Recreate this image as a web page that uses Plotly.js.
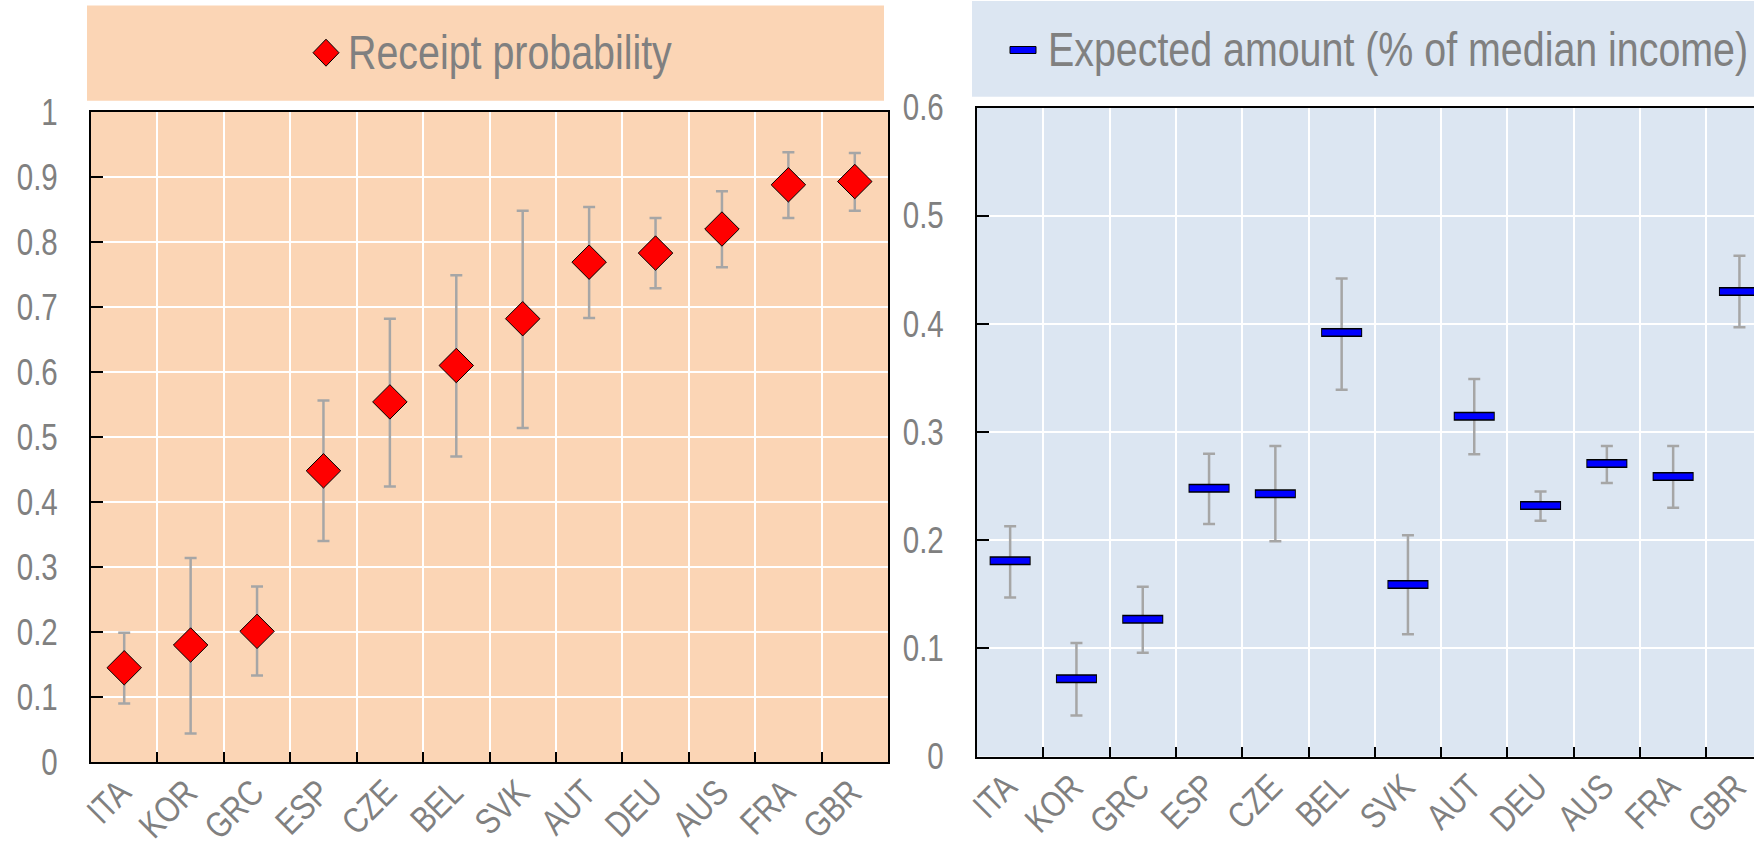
<!DOCTYPE html>
<html><head><meta charset="utf-8">
<script src="https://cdn.plot.ly/plotly-3.0.1.min.js"></script>
<style>html,body{margin:0;padding:0;overflow:hidden;background:#fff}#chart{width:1790px;height:846px}</style>
</head><body><div id="chart"></div>
<script>
// ---- data ----
const countries = ['ITA','KOR','GRC','ESP','CZE','BEL','SVK','AUT','DEU','AUS','FRA','GBR'];
const receiptProb = [0.145, 0.180, 0.201, 0.448, 0.554, 0.610, 0.682, 0.769, 0.783, 0.820, 0.888, 0.893];
const receiptHigh = [0.199, 0.314, 0.270, 0.556, 0.682, 0.749, 0.848, 0.854, 0.837, 0.878, 0.938, 0.937];
const receiptLow  = [0.090, 0.044, 0.133, 0.340, 0.424, 0.470, 0.514, 0.683, 0.729, 0.761, 0.837, 0.848];
const amount      = [0.181, 0.072, 0.127, 0.248, 0.243, 0.392, 0.159, 0.3145, 0.232, 0.271, 0.259, 0.430];
const amountHigh  = [0.213, 0.105, 0.157, 0.280, 0.287, 0.442, 0.2045, 0.349, 0.245, 0.287, 0.287, 0.463];
const amountLow   = [0.147, 0.038, 0.096, 0.215, 0.199, 0.339, 0.113, 0.2795, 0.218, 0.253, 0.230, 0.397];
const legendLabels = ['Receipt probability', 'Expected amount (% of median income)'];

// ---- styling ----
const W = 1790, H = 846;
const fx = p => p / W;
const fy = p => 1 - p / H;
const FONT = '"Liberation Sans Narrow", "Arial Narrow", "Liberation Sans", Arial, sans-serif';
const GREY = '#808080';
const PEACH = '#fbd5b5';
const BLUE_BG = '#dce6f2';
const ERR = '#a6a6a6';
const NARROW = 0.82; // horizontal condensing to mimic a narrow typeface

const up = (hi, v) => hi.map((h, i) => h - v[i]);
const dn = (lo, v) => lo.map((l, i) => v[i] - l);

const traces = [
  {
    type: 'scatter', mode: 'markers', x: countries, y: receiptProb,
    xaxis: 'x', yaxis: 'y', name: legendLabels[0], showlegend: false, hoverinfo: 'skip',
    marker: {symbol: 'diamond', size: 26.5, color: '#ff0000', line: {color: '#000', width: 1}},
    error_y: {type: 'data', symmetric: false, array: up(receiptHigh, receiptProb),
              arrayminus: dn(receiptLow, receiptProb), color: ERR, thickness: 2.5, width: 6}
  },
  {
    type: 'scatter', mode: 'markers', x: countries, y: amount,
    xaxis: 'x2', yaxis: 'y2', name: legendLabels[1] + ' outline', showlegend: false, hoverinfo: 'skip',
    marker: {symbol: 'line-ew', size: 29.3, color: '#000', line: {color: '#000', width: 9}},
    error_y: {type: 'data', symmetric: false, array: up(amountHigh, amount),
              arrayminus: dn(amountLow, amount), color: ERR, thickness: 2.5, width: 6}
  },
  {
    type: 'scatter', mode: 'markers', x: countries, y: amount,
    xaxis: 'x2', yaxis: 'y2', name: legendLabels[1], showlegend: false, hoverinfo: 'skip',
    marker: {symbol: 'line-ew', size: 27.9, color: '#0000ff', line: {color: '#0000ff', width: 6}}
  }
];

const xCommon = {
  type: 'category', range: [-0.5, 11.5], tickson: 'boundaries',
  ticks: 'inside', ticklen: 10, tickwidth: 2, tickcolor: '#000',
  showgrid: true, gridcolor: '#ffffff', gridwidth: 2,
  showline: true, linecolor: '#000', linewidth: 2, mirror: true,
  tickangle: -45, tickfont: {family: FONT, size: 36, color: GREY},
  ticklabelstandoff: -7, ticklabelshift: -4, automargin: false, fixedrange: true
};
const yCommon = {
  ticks: 'inside', ticklen: 12, tickwidth: 2, tickcolor: '#000',
  showgrid: true, gridcolor: '#ffffff', gridwidth: 2, zeroline: false,
  showline: true, linecolor: '#000', linewidth: 2, mirror: true,
  tickfont: {family: FONT, size: 36, color: GREY},
  ticklabelstandoff: 24, automargin: false, fixedrange: true
};

const layout = {
  width: W, height: H,
  margin: {l: 0, r: 0, t: 0, b: 0},
  paper_bgcolor: '#ffffff', plot_bgcolor: 'rgba(0,0,0,0)',
  showlegend: false, hovermode: false,
  font: {family: FONT, color: GREY},
  xaxis: Object.assign({}, xCommon, {domain: [fx(91), fx(888)], anchor: 'y'}),
  yaxis: Object.assign({}, yCommon, {domain: [fy(762), fy(112)], range: [0, 1], dtick: 0.1, anchor: 'x'}),
  xaxis2: Object.assign({}, xCommon, {domain: [fx(977), fx(1772.6)], anchor: 'y2'}),
  yaxis2: Object.assign({}, yCommon, {domain: [fy(756.5), fy(107.6)], range: [0, 0.6], dtick: 0.1, anchor: 'x2'}),
  shapes: [
    // plot backgrounds
    {type: 'rect', xref: 'x domain', yref: 'y domain', x0: 0, x1: 1, y0: 0, y1: 1,
     fillcolor: PEACH, line: {width: 0}, layer: 'below'},
    {type: 'rect', xref: 'x2 domain', yref: 'y2 domain', x0: 0, x1: 1, y0: 0, y1: 1,
     fillcolor: BLUE_BG, line: {width: 0}, layer: 'below'},
    // legend boxes
    {type: 'rect', xref: 'paper', yref: 'paper', x0: fx(87), x1: fx(884), y0: fy(100.7), y1: fy(5.6),
     fillcolor: PEACH, line: {width: 0}, layer: 'below'},
    {type: 'rect', xref: 'paper', yref: 'paper', x0: fx(972), x1: 1, y0: fy(96.7), y1: fy(1),
     fillcolor: BLUE_BG, line: {width: 0}, layer: 'below'},
    // legend icons
    {type: 'path', xref: 'paper', yref: 'paper', xsizemode: 'pixel', ysizemode: 'pixel',
     xanchor: fx(326), yanchor: fy(52.7), path: 'M -13 0 L 0 13.5 L 13 0 L 0 -13.5 Z',
     fillcolor: '#ff0000', line: {color: '#000', width: 1}},
    {type: 'rect', xref: 'paper', yref: 'paper', xsizemode: 'pixel', ysizemode: 'pixel',
     xanchor: fx(1023), yanchor: fy(50), x0: -13, x1: 13, y0: -3.5, y1: 3.5,
     fillcolor: '#0000ff', line: {color: '#000', width: 1}}
  ],
  annotations: [
    {xref: 'paper', yref: 'paper', x: fx(346), y: fy(52.5), xanchor: 'left', yanchor: 'middle', align: 'left',
     text: legendLabels[0], showarrow: false, font: {family: FONT, size: 48, color: GREY}},
    {xref: 'paper', yref: 'paper', x: fx(1046), y: fy(49), xanchor: 'left', yanchor: 'middle', align: 'left',
     text: legendLabels[1], showarrow: false, font: {family: FONT, size: 48, color: GREY}}
  ]
};

// squeeze glyphs along each text's own baseline (works for rotated labels too)
function condense() {
  document.querySelectorAll('#chart svg text').forEach(t => {
    if (!t.textContent) return;
    const len = t.getComputedTextLength();
    if (!(len > 0)) return;
    t.setAttribute('lengthAdjust', 'spacingAndGlyphs');
    t.setAttribute('textLength', (len * NARROW).toFixed(2));
  });
}

Plotly.newPlot('chart', traces, layout, {displayModeBar: false, staticPlot: true}).then(condense);
</script>
</body></html>
